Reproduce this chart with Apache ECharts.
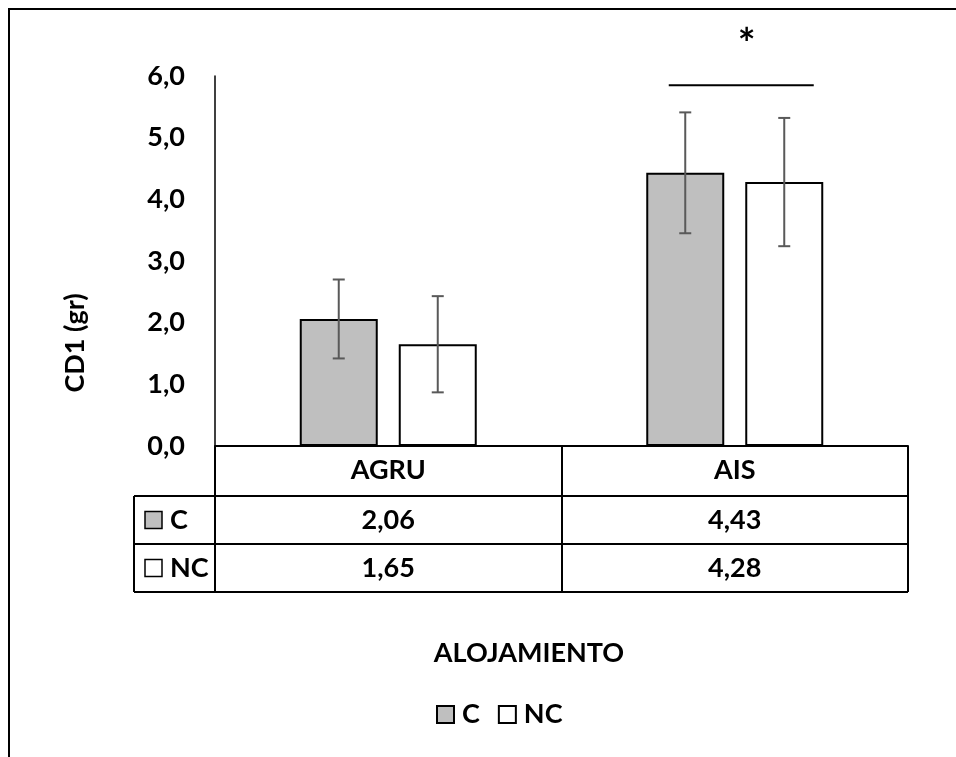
<!DOCTYPE html>
<html>
<head>
<meta charset="utf-8">
<script src="https://cdn.jsdelivr.net/npm/echarts@6/dist/echarts.min.js"></script>
<style>
  html, body { margin: 0; padding: 0; background: #fff; }
  #main { width: 956px; height: 757px; }
</style>
</head>
<body>
<div id="main"></div>
<script>
// datos
var categories = ['AGRU', 'AIS'];
var seriesNames = ['C', 'NC'];
var valuesC = [2.06, 4.43];
var valuesNC = [1.65, 4.28];
var errC = [0.64, 0.98];
var errNC = [0.78, 1.04];
var yTicks = [0, 1, 2, 3, 4, 5, 6];
var sigCategory = 'AIS';
var sigLevel = 5.85;
var sigMark = '*';
var yName = 'CD1 (gr)';
var xName = 'ALOJAMIENTO';

var FONT = 'Lato';
var FS = 27;
var barW = 78, gapPx = 21;
var offset = (barW + gapPx) / 2;

var myChart = echarts.init(document.getElementById('main'));

function fmt(v) {
    return v.toFixed(2).replace('.', ',');
}

// barras de error con serie custom
function errSeries(vals, errs, dx) {
    return {
        type: 'custom',
        z: 10,
        silent: true,
        data: vals.map(function (v, i) { return [i, v - errs[i], v + errs[i]]; }),
        renderItem: function (params, api) {
            var lo = api.coord([api.value(0), api.value(1)]);
            var hi = api.coord([api.value(0), api.value(2)]);
            var x = lo[0] + dx, cap = 6;
            var st = { stroke: '#595959', lineWidth: 2 };
            return {
                type: 'group',
                children: [
                    { type: 'line', shape: { x1: x, y1: lo[1], x2: x, y2: hi[1] }, style: st },
                    { type: 'line', shape: { x1: x - cap, y1: lo[1], x2: x + cap, y2: lo[1] }, style: st },
                    { type: 'line', shape: { x1: x - cap, y1: hi[1], x2: x + cap, y2: hi[1] }, style: st }
                ]
            };
        }
    };
}

var txt = { fontSize: FS, fontWeight: 'bold', fontFamily: FONT, color: '#000' };

var option = {
    animation: false,
    textStyle: { fontFamily: FONT, fontWeight: 'bold', color: '#000' },
    grid: { left: 215, right: 48, top: 76, bottom: 311 },
    legend: {
        data: seriesNames,
        bottom: 24,
        left: 431,
        icon: 'rect',
        itemWidth: 17,
        itemHeight: 17,
        itemGap: 18,
        textStyle: { fontFamily: FONT, fontWeight: 'bold', fontSize: FS, color: '#000', padding: [0, 0, 0, 3] }
    },
    xAxis: {
        type: 'category',
        data: categories,
        axisLine: { lineStyle: { color: '#000', width: 2 } },
        axisTick: { show: true, length: 146, lineStyle: { color: '#000', width: 2 } },
        axisLabel: Object.assign({ margin: 11 }, txt)
    },
    yAxis: {
        type: 'value',
        min: yTicks[0],
        max: yTicks[yTicks.length - 1],
        interval: 1,
        axisLine: { show: true, lineStyle: { color: '#000', width: 1.5 } },
        axisTick: { show: false },
        splitLine: { show: false },
        axisLabel: Object.assign({
            margin: 30,
            formatter: function (v) { return v.toFixed(1).replace('.', ','); }
        }, txt)
    },
    series: [
        {
            name: seriesNames[0], type: 'bar', data: valuesC,
            barWidth: barW, barGap: (gapPx / barW * 100) + '%',
            itemStyle: { color: '#bfbfbf', borderColor: '#000', borderWidth: 2 }
        },
        {
            name: seriesNames[1], type: 'bar', data: valuesNC,
            barWidth: barW,
            itemStyle: { color: '#fff', borderColor: '#000', borderWidth: 2 }
        },
        errSeries(valuesC, errC, -offset),
        errSeries(valuesNC, errNC, offset)
    ]
};

myChart.setOption(option);

// tabla de datos, marco, titulos de ejes y marca de significancia
var y0 = myChart.convertToPixel({ yAxisIndex: 0 }, 0);
var xRight = 956 - 48, xFirst = 134;
var rowH = [50, 48, 48];
var rowY = [y0, y0 + rowH[0], y0 + rowH[0] + rowH[1], y0 + rowH[0] + rowH[1] + rowH[2]];
var lineSt = { stroke: '#000', lineWidth: 2 };
var font = 'bold ' + FS + 'px ' + FONT;
var g = [];

g.push({ type: 'rect', shape: { x: 9, y: 9, width: 1000, height: 1000 },
    style: { fill: null, stroke: '#000', lineWidth: 2 }, silent: true });

for (var r = 1; r < rowY.length; r++) {
    g.push({ type: 'line', shape: { x1: xFirst, y1: rowY[r], x2: xRight, y2: rowY[r] }, style: lineSt });
}
g.push({ type: 'line', shape: { x1: xFirst, y1: rowY[1], x2: xFirst, y2: rowY[3] }, style: lineSt });

var rowVals = [valuesC, valuesNC];
var rowFill = ['#bfbfbf', '#fff'];
for (var s = 0; s < 2; s++) {
    var cy = (rowY[s + 1] + rowY[s + 2]) / 2;
    g.push({ type: 'rect', shape: { x: 145, y: cy - 8.5, width: 17, height: 17 },
        style: { fill: rowFill[s], stroke: '#000', lineWidth: 1.5 } });
    g.push({ type: 'text', x: 170, y: cy,
        style: { text: seriesNames[s], font: font, fill: '#000', verticalAlign: 'middle' } });
    for (var c = 0; c < categories.length; c++) {
        var cx = myChart.convertToPixel({ xAxisIndex: 0 }, categories[c]);
        g.push({ type: 'text', x: cx, y: cy,
            style: { text: fmt(rowVals[s][c]), font: font, fill: '#000',
                align: 'center', verticalAlign: 'middle' } });
    }
}

// titulo del eje Y, centrado sobre grafico + tabla
g.push({ type: 'text', x: 75, y: (76 + rowY[3]) / 2 + 9, rotation: Math.PI / 2,
    style: { text: yName, font: font, fill: '#000', align: 'center', verticalAlign: 'middle' } });
// titulo del eje X
g.push({ type: 'text', x: 529, y: 653,
    style: { text: xName, font: font, fill: '#000', align: 'center', verticalAlign: 'middle' } });

var sx = myChart.convertToPixel({ xAxisIndex: 0 }, sigCategory);
var sy = myChart.convertToPixel({ yAxisIndex: 0 }, sigLevel);
g.push({ type: 'line', shape: { x1: sx - 66, y1: sy, x2: sx + 79, y2: sy }, style: lineSt });
g.push({ type: 'text', x: sx + 12, y: sy - 40,
    style: { text: sigMark, font: 'bold 42px ' + FONT, fill: '#000', align: 'center', verticalAlign: 'middle' } });

myChart.setOption({ graphic: { elements: g } });
</script>
</body>
</html>
